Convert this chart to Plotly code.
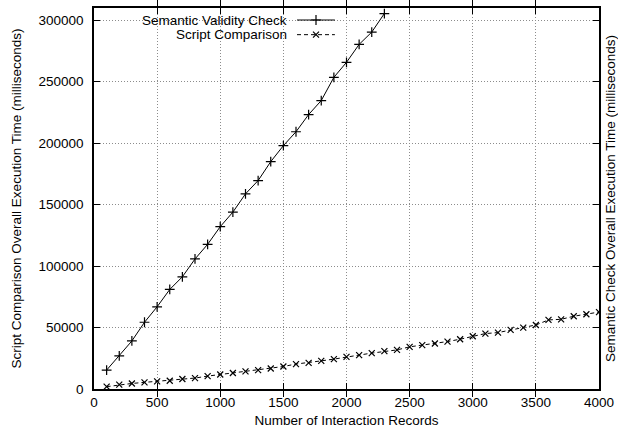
import plotly.graph_objects as go

# ---- data ----
semantic_x = [100, 200, 300, 400, 500, 600, 700, 800, 900, 1000, 1100, 1200,
              1300, 1400, 1500, 1600, 1700, 1800, 1900, 2000, 2100, 2200, 2300]
semantic_y = [15400, 27000, 39100, 54300, 66900, 81000, 91300, 105800, 117700,
              132100, 143900, 158800, 169600, 185000, 198000, 209300, 223300,
              234700, 253600, 265800, 280400, 290400, 305500]

script_x = [100, 200, 300, 400, 500, 600, 700, 800, 900, 1000,
            1100, 1200, 1300, 1400, 1500, 1600, 1700, 1800, 1900, 2000,
            2100, 2200, 2300, 2400, 2500, 2600, 2700, 2800, 2900, 3000,
            3100, 3200, 3300, 3400, 3500, 3600, 3700, 3800, 3900, 4000]
script_y = [1900, 3500, 4500, 5400, 6200, 6700, 8100, 8900, 10500, 11800,
            13000, 14300, 15400, 16700, 18300, 20300, 21300, 22900, 24300, 26200,
            27600, 29200, 30800, 31800, 34300, 35700, 37000, 38600, 40500, 42900,
            45100, 45900, 48100, 49900, 52100, 56200, 56700, 59200, 60800, 62600]

series_names = ["Semantic Validity Check", "Script Comparison"]
x_title = "Number of Interaction Records"
y_title = "Script Comparison Overall Execution Time (milliseconds)"
y2_title = "Semantic Check Overall Execution Time (milliseconds)"

FONT = "Liberation Sans, Arial, Helvetica, sans-serif"
FS = 13.5
BLACK = "#000000"
GRID = "#8c8c8c"
Y_RANGE = [0, 310000]

fig = go.Figure()

fig.add_trace(go.Scatter(
    x=semantic_x, y=semantic_y, name=series_names[0], mode="lines+markers",
    line=dict(color=BLACK, width=1),
    marker=dict(symbol="cross-thin-open", size=7, color=BLACK,
                line=dict(color=BLACK, width=1.2)),
    xaxis="x", yaxis="y2", showlegend=False))

fig.add_trace(go.Scatter(
    x=script_x, y=script_y, name=series_names[1], mode="lines+markers",
    line=dict(color=BLACK, width=1, dash="4px,3px"),
    marker=dict(symbol="x-thin-open", size=6, color=BLACK,
                line=dict(color=BLACK, width=1.2)),
    xaxis="x", yaxis="y", showlegend=False))

# ---- custom key (text left of sample, gnuplot style) ----
key_rows = [0.9685, 0.930]
key_line_x = [0.402, 0.4396, 0.477]
for i, (name, yk) in enumerate(zip(series_names, key_rows)):
    fig.add_annotation(x=0.386, y=yk, xref="paper", yref="paper", text=name,
                       showarrow=False, xanchor="right", yanchor="middle",
                       font=dict(family=FONT, size=FS, color=BLACK))
    fig.add_trace(go.Scatter(
        x=key_line_x, y=[yk] * 3, mode="lines", xaxis="x3", yaxis="y3",
        line=dict(color=BLACK, width=1, dash="solid" if i == 0 else "4px,3px"),
        hoverinfo="skip", showlegend=False))
    fig.add_trace(go.Scatter(
        x=[key_line_x[1]], y=[yk], mode="markers", xaxis="x3", yaxis="y3",
        marker=dict(symbol="cross-thin-open" if i == 0 else "x-thin-open",
                    size=7 if i == 0 else 6, color=BLACK,
                    line=dict(color=BLACK, width=1.2)),
        hoverinfo="skip", showlegend=False))

# white key box hiding grid lines
fig.add_shape(type="rect", xref="paper", yref="paper", x0=0.004, x1=0.491,
              y0=0.916, y1=0.998, fillcolor="white", line=dict(width=0),
              layer="between")

axis_common = dict(showline=True, linecolor=BLACK, linewidth=1.5,
                   ticks="inside", ticklen=6, tickcolor=BLACK, tickwidth=1,
                   zeroline=False, showgrid=True, gridcolor=GRID, gridwidth=1,
                   griddash="1px,2px", tickformat="d",
                   tickfont=dict(family=FONT, size=FS, color=BLACK))

fig.update_layout(
    width=618, height=430,
    margin=dict(l=94, r=19, t=8, b=41, autoexpand=False),
    paper_bgcolor="white", plot_bgcolor="white",
    font=dict(family=FONT, size=FS, color=BLACK),
    xaxis=dict(range=[0, 4000], dtick=500, tick0=0, mirror="allticks",
               title=dict(text=x_title, standoff=7,
                          font=dict(family=FONT, size=FS, color=BLACK)),
               **axis_common),
    yaxis=dict(range=Y_RANGE, dtick=50000, tick0=0, mirror="allticks",
               ticklabelstandoff=6,
               title=dict(text=y_title, standoff=14,
                          font=dict(family=FONT, size=FS, color=BLACK)),
               **axis_common),
    yaxis2=dict(range=Y_RANGE, overlaying="y", side="right", anchor="x",
                showline=False, ticks="", showticklabels=False,
                showgrid=False, zeroline=False,
                title=dict(text=y2_title, standoff=6,
                           font=dict(family=FONT, size=FS, color=BLACK))),
    xaxis3=dict(range=[0, 1], overlaying="x", anchor="y3", visible=False),
    yaxis3=dict(range=[0, 1], overlaying="y", anchor="x3", visible=False),
    showlegend=False,
)

fig.write_html("out.html", config={"displayModeBar": False},
               post_script="document.body.style.margin='0';"
                           "document.body.style.padding='0';")
